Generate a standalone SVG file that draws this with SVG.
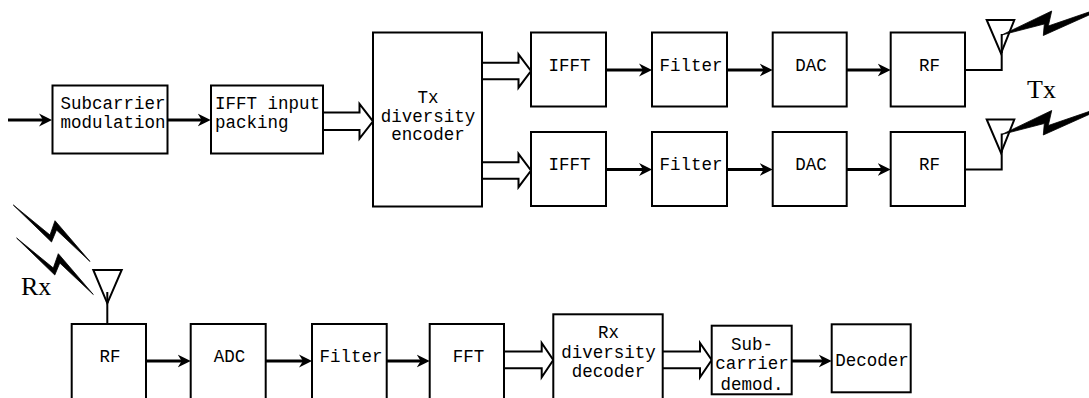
<svg xmlns="http://www.w3.org/2000/svg" width="1089" height="398" viewBox="0 0 1089 398">
<style>
.box{fill:#fff;stroke:#000;stroke-width:2}
.t{font-family:"Liberation Mono","DejaVu Sans Mono",monospace;font-size:17.5px;fill:#000}
.c{text-anchor:middle}
.lbl{font-family:"Liberation Serif","Times New Roman",serif;font-size:26px;fill:#000}
.arr{fill:none;stroke:#000;stroke-width:3;marker-end:url(#ah)}
.hol{fill:#fff;stroke:#000;stroke-width:2;stroke-linejoin:miter}
.ant{fill:#fff;stroke:#000;stroke-width:2}
.wire{fill:none;stroke:#000;stroke-width:2}
.bolt{fill:#000;stroke:#000;stroke-width:0.8;stroke-linejoin:miter}
</style>
<defs>
<marker id="ah" viewBox="0 -7 14 14" refX="5" refY="0" markerWidth="14" markerHeight="14" markerUnits="userSpaceOnUse" orient="auto">
<path d="M13,0 L0,-6.5 L4,0 L0,6.5 Z" fill="#000"/>
</marker>
<polygon id="txbolt" points="1001.7,35 1051.7,11 1048.3,26 1089,12 1089,15 1043.3,35.5 1044.3,24"/>
<polygon id="rxbolt" points="13.3,205 51.5,242 56.5,230 90,261.5 55,220.7 50,235"/>
</defs>

<g id="connectors">
<line class="arr" x1="8" y1="120" x2="44" y2="120"/>
<line class="arr" x1="167.5" y1="120" x2="202.7" y2="120"/>
<polyline class="hol" points="323,112.5 359.5,112.5 359.5,104 373,121.3 359.5,138.5 359.5,130 323,130"/>
<polyline class="hol" points="482,62.7 518.5,62.7 518.5,54.3 531,71 518.5,87.7 518.5,79.3 482,79.3"/>
<polyline class="hol" points="482,162.2 518.5,162.2 518.5,153.8 531,170.5 518.5,187.2 518.5,178.8 482,178.8"/>
<line class="arr" x1="606" y1="70" x2="644" y2="70"/>
<line class="arr" x1="727" y1="70" x2="764.7" y2="70"/>
<line class="arr" x1="847" y1="70" x2="882.7" y2="70"/>
<line class="arr" x1="606" y1="169.5" x2="644" y2="169.5"/>
<line class="arr" x1="727" y1="169.5" x2="764.7" y2="169.5"/>
<line class="arr" x1="847" y1="169.5" x2="882.7" y2="169.5"/>
<line class="arr" x1="146" y1="361" x2="182.7" y2="361"/>
<line class="arr" x1="266" y1="361" x2="304" y2="361"/>
<line class="arr" x1="386.7" y1="361" x2="421.7" y2="361"/>
<polyline class="hol" points="504,351.5 541.7,351.5 541.7,343 553.3,360 541.7,377.3 541.7,368.3 504,368.3"/>
<polyline class="hol" points="662.7,351.5 700,351.5 700,343 711.7,360 700,377.3 700,368.3 662.7,368.3"/>
<line class="arr" x1="791.7" y1="361" x2="823.7" y2="361"/>
<polyline class="wire" points="965,70 1001.7,70 1001.7,34"/>
<polyline class="wire" points="965,169.5 1001.7,169.5 1001.7,133.5"/>
<line class="wire" x1="107.3" y1="324" x2="107.3" y2="292"/>
</g>

<g id="subcarrier-modulation">
<rect class="box" x="52.5" y="85.5" width="115" height="68"/>
<text class="t" x="60.5" y="109">Subcarrier</text>
<text class="t" x="60.5" y="127.5">modulation</text>
</g>
<g id="ifft-input-packing">
<rect class="box" x="211" y="85.5" width="112" height="68"/>
<text class="t" x="215" y="109">IFFT input</text>
<text class="t" x="215" y="127.5">packing</text>
</g>
<g id="tx-diversity-encoder">
<rect class="box" x="373" y="32.5" width="109" height="174"/>
<text class="t c" x="428" y="103">Tx</text>
<text class="t c" x="428" y="121.5">diversity</text>
<text class="t c" x="428" y="140">encoder</text>
</g>

<g id="ifft-1"><rect class="box" x="531" y="32.5" width="75" height="74"/><text class="t c" x="569.5" y="70.5">IFFT</text></g>
<g id="filter-1"><rect class="box" x="652" y="32.5" width="75" height="74"/><text class="t c" x="691" y="70.5">Filter</text></g>
<g id="dac-1"><rect class="box" x="772.7" y="32.5" width="74" height="74"/><text class="t c" x="811" y="70.5">DAC</text></g>
<g id="rf-1"><rect class="box" x="890.7" y="32.5" width="74.3" height="74"/><text class="t c" x="929.5" y="70.5">RF</text></g>

<g id="ifft-2"><rect class="box" x="531" y="132" width="75" height="74"/><text class="t c" x="569.5" y="170">IFFT</text></g>
<g id="filter-2"><rect class="box" x="652" y="132" width="75" height="74"/><text class="t c" x="691" y="170">Filter</text></g>
<g id="dac-2"><rect class="box" x="772.7" y="132" width="74" height="74"/><text class="t c" x="811" y="170">DAC</text></g>
<g id="rf-2"><rect class="box" x="890.7" y="132" width="74.3" height="74"/><text class="t c" x="929.5" y="170">RF</text></g>

<g id="tx-antenna-1">
<polygon class="ant" points="986.7,20 1014.3,20 1001,53.3"/>
<line class="wire" x1="1001.7" y1="53" x2="1001.7" y2="34"/>
<use href="#txbolt" class="bolt"/>
</g>
<g id="tx-antenna-2" transform="translate(0,99.5)">
<polygon class="ant" points="986.7,20 1014.3,20 1001,53.3"/>
<line class="wire" x1="1001.7" y1="53" x2="1001.7" y2="34"/>
<use href="#txbolt" class="bolt"/>
</g>
<g id="tx-label"><text class="lbl" x="1027" y="98">Tx</text></g>

<g id="rx-antenna">
<polygon class="ant" points="93.3,270 121.7,270 107.3,303.3"/>
<line class="wire" x1="107.3" y1="303" x2="107.3" y2="292"/>
<use href="#rxbolt" class="bolt"/>
<use href="#rxbolt" class="bolt" transform="translate(3.3,33)"/>
</g>
<g id="rx-label"><text class="lbl" x="21" y="294.5">Rx</text></g>

<g id="rf-rx"><rect class="box" x="71.7" y="324" width="74.3" height="90"/><text class="t c" x="110" y="361.5">RF</text></g>
<g id="adc"><rect class="box" x="190.7" y="324" width="75" height="90"/><text class="t c" x="229.5" y="361.5">ADC</text></g>
<g id="filter-rx"><rect class="box" x="312" y="324" width="74.7" height="90"/><text class="t c" x="351" y="361.5">Filter</text></g>
<g id="fft"><rect class="box" x="429.7" y="324" width="74.3" height="90"/><text class="t c" x="468.5" y="361.5">FFT</text></g>
<g id="rx-diversity-decoder">
<rect class="box" x="553.3" y="314.3" width="109.4" height="100"/>
<text class="t c" x="608.5" y="338">Rx</text>
<text class="t c" x="608.5" y="357.5">diversity</text>
<text class="t c" x="608.5" y="377">decoder</text>
</g>
<g id="subcarrier-demod">
<rect class="box" x="711.7" y="325.7" width="80" height="68.6"/>
<text class="t c" x="752" y="349.5">Sub-</text>
<text class="t c" x="752" y="369">carrier</text>
<text class="t c" x="752" y="389.5">demod.</text>
</g>
<g id="decoder">
<rect class="box" x="831.7" y="324.3" width="79" height="68"/>
<text class="t c" x="872" y="366">Decoder</text>
</g>
</svg>
